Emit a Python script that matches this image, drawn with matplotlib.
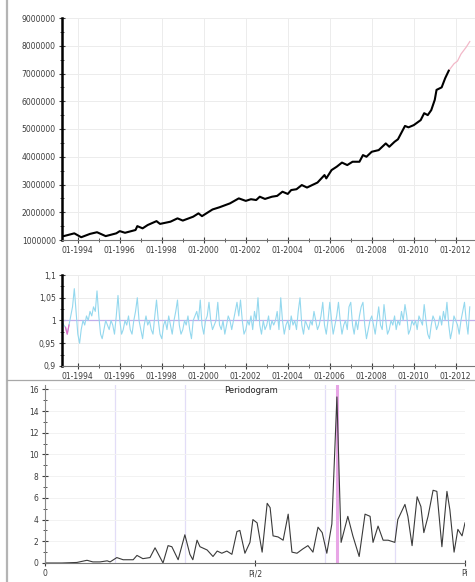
import numpy as np
import pandas as pd
import matplotlib
matplotlib.use("Agg")
import matplotlib.pyplot as plt
import matplotlib.dates as mdates
from matplotlib.ticker import MultipleLocator, FuncFormatter, FixedLocator
from matplotlib.lines import Line2D

# ── Données ───────────────────────────────────────────────────────────────────
# série brute (millions), relevés mensuels
serie_mois = ["1993-04", "1993-05", "1993-11", "1994-03", "1994-08", "1994-12",
              "1995-05", "1995-11", "1996-01", "1996-04", "1996-10", "1996-11",
              "1997-02", "1997-05", "1997-10", "1997-12", "1998-06", "1998-10",
              "1999-01", "1999-07", "1999-10", "1999-12", "2000-06", "2000-10",
              "2001-04", "2001-09", "2002-01", "2002-04", "2002-07", "2002-09",
              "2002-12", "2003-04", "2003-07", "2003-10", "2004-01", "2004-03",
              "2004-06", "2004-09", "2004-12", "2005-03", "2005-06", "2005-10",
              "2005-11", "2006-02", "2006-05", "2006-08", "2006-11", "2007-02",
              "2007-06", "2007-08", "2007-10", "2008-01", "2008-05", "2008-09",
              "2008-11", "2009-02", "2009-04", "2009-08", "2009-10", "2010-01",
              "2010-05", "2010-07", "2010-09", "2010-11", "2011-01", "2011-02",
              "2011-05", "2011-07", "2011-09"]
serie_val = [1.15, 1.14, 1.24, 1.10, 1.22, 1.28,
             1.14, 1.24, 1.32, 1.26, 1.36, 1.50,
             1.42, 1.54, 1.68, 1.58, 1.66, 1.78,
             1.70, 1.84, 1.96, 1.86, 2.10, 2.18,
             2.32, 2.50, 2.41, 2.47, 2.44, 2.56,
             2.48, 2.56, 2.59, 2.74, 2.66, 2.80,
             2.83, 2.98, 2.89, 2.98, 3.07, 3.34,
             3.22, 3.52, 3.64, 3.79, 3.70, 3.82,
             3.82, 4.06, 4.00, 4.18, 4.24, 4.48,
             4.36, 4.54, 4.63, 5.11, 5.06, 5.14,
             5.32, 5.57, 5.50, 5.68, 6.05, 6.41,
             6.50, 6.83, 7.10]

# prévision
prev_mois = ["2011-09", "2011-12", "2012-02", "2012-04", "2012-07", "2012-09"]
prev_val = [7.10, 7.35, 7.45, 7.70, 7.95, 8.15]

# coefficients saisonniers (ratio), mensuels à partir d'avril 1993
ratio_debut = "1993-04"
ratio_val = [
    1.00, 0.99, 0.985, 0.97, 0.99, 1.01, 1.03, 1.07, 1.02,
    0.97, 0.95, 0.98, 1.00, 0.99, 1.01, 1.00, 1.02, 1.01, 1.03, 1.02, 1.065,
    1.01, 0.97, 0.96, 0.98, 1.00, 0.99, 0.98, 1.00, 0.99, 0.97, 1.01, 1.055,
    1.00, 0.97, 0.98, 1.00, 0.99, 1.01, 0.98, 0.97, 1.00, 1.02, 1.05, 1.00,
    0.98, 0.96, 0.99, 1.01, 0.99, 1.00, 0.98, 0.97, 1.01, 1.045, 1.00, 0.97,
    0.96, 0.99, 1.00, 0.98, 1.01, 0.99, 0.97, 1.00, 1.02, 1.045, 0.99, 0.97,
    0.98, 1.00, 0.99, 1.01, 0.98, 0.96, 1.00, 1.01, 1.02, 1.00, 1.045, 0.99,
    0.97, 1.00, 1.01, 1.04, 1.00, 0.98, 0.99, 1.00, 1.04, 0.99, 0.98, 1.00,
    0.97, 0.99, 1.01, 1.00, 0.98, 1.00, 1.02, 1.04, 1.01, 1.045, 1.00, 0.97,
    0.98, 1.00, 0.99, 1.01, 0.98, 1.02, 1.00, 1.05, 0.99, 0.97, 1.00, 0.98,
    0.99, 1.01, 0.98, 1.00, 0.99, 1.00, 1.02, 0.98, 1.05, 1.00, 0.97, 0.99,
    1.00, 0.98, 1.01, 0.99, 1.00, 0.98, 1.02, 1.05, 0.99, 0.97, 1.00, 0.99,
    0.98, 1.00, 0.99, 1.02, 1.00, 0.98, 0.99, 1.01, 1.04, 0.99, 0.97, 1.00,
    1.04, 1.00, 0.97, 0.99, 1.01, 1.04, 1.00, 0.97, 0.99, 1.00, 0.98, 1.03,
    1.04, 0.99, 0.97, 1.00, 0.98, 1.01, 1.03, 1.04, 0.99, 0.96, 0.98, 1.00,
    1.01, 0.99, 0.97, 1.00, 1.03, 0.99, 0.98, 1.035, 1.00, 0.97, 0.98, 1.00,
    0.99, 1.01, 0.98, 1.00, 0.99, 1.02, 1.00, 1.035, 1.01, 0.97, 0.98, 1.00,
    0.99, 1.00, 0.98, 1.01, 1.00, 0.99, 1.035, 1.00, 0.97, 0.96, 0.99, 1.01,
    1.00, 0.98, 0.99, 1.01, 0.99, 1.02, 1.00, 1.04, 0.99, 0.96, 0.98, 1.01,
    1.00, 0.99, 0.97, 1.00, 1.02, 1.04, 1.00, 0.97, 1.03,
]
ratio_ref = 1.0

# périodogramme : fréquence (fraction de pi) et puissance
perio_freq = [0.000, 0.040, 0.076, 0.100, 0.114, 0.131, 0.148, 0.155, 0.171, 0.186,
              0.210, 0.219, 0.233, 0.250, 0.262, 0.281, 0.293, 0.302, 0.317, 0.333,
              0.345, 0.352, 0.362, 0.369, 0.386, 0.400, 0.410, 0.421, 0.433, 0.445,
              0.457, 0.464, 0.476, 0.488, 0.495, 0.505, 0.517, 0.529, 0.536, 0.543,
              0.555, 0.567, 0.579, 0.588, 0.600, 0.614, 0.626, 0.638, 0.650, 0.660,
              0.671, 0.683, 0.695, 0.705, 0.721, 0.733, 0.748, 0.762, 0.774, 0.781,
              0.793, 0.805, 0.817, 0.833, 0.840, 0.857, 0.864, 0.874, 0.886, 0.895,
              0.902, 0.912, 0.924, 0.933, 0.945, 0.957, 0.964, 0.974, 0.983, 0.993,
              1.000]
perio_val = [0.0, 0.0, 0.05, 0.25, 0.1, 0.1, 0.2, 0.1, 0.5, 0.3,
             0.3, 0.7, 0.4, 0.5, 1.4, 0.0, 1.6, 1.5, 0.3, 2.6,
             0.8, 0.3, 2.1, 1.5, 1.2, 0.6, 1.1, 0.9, 1.1, 0.8,
             2.9, 3.0, 0.9, 1.9, 4.0, 3.7, 1.0, 5.5, 5.1, 2.5,
             2.4, 2.1, 4.5, 1.0, 0.9, 1.3, 1.6, 1.0, 3.3, 2.8,
             0.9, 3.6, 15.3, 1.9, 4.3, 2.5, 0.6, 4.5, 4.3, 1.9,
             3.4, 2.1, 2.1, 1.9, 4.0, 5.4, 4.3, 1.6, 6.1, 5.2,
             2.8, 4.3, 6.7, 6.6, 1.5, 6.6, 4.9, 1.0, 3.1, 2.5,
             3.7]

# ── Mise en forme ─────────────────────────────────────────────────────────────
GRIS = "#3c3c3c"
FS = 5.5

x_serie = pd.to_datetime(serie_mois)
y_serie = np.array(serie_val) * 1e6
x_prev = pd.to_datetime(prev_mois)
y_prev = np.array(prev_val) * 1e6
x_ratio = pd.date_range(ratio_debut, periods=len(ratio_val), freq="MS")
freq = np.array(perio_freq) * np.pi
puis = np.array(perio_val)

xmin, xmax = pd.Timestamp("1993-04-01"), pd.Timestamp("2012-12-01")


def style_axe(ax, spine_gauche="black", lw_gauche=1.8):
    for s in ("top", "right"):
        ax.spines[s].set_visible(False)
    ax.spines["left"].set_color(spine_gauche)
    ax.spines["left"].set_linewidth(lw_gauche)
    ax.spines["bottom"].set_color("#777777")
    ax.spines["bottom"].set_linewidth(0.8)
    ax.tick_params(which="major", direction="inout", length=5, width=0.8,
                   color=GRIS, labelsize=FS, labelcolor=GRIS, pad=2)
    ax.tick_params(which="minor", direction="inout", length=3, width=0.6,
                   color=GRIS)
    ax.set_facecolor("white")


def axe_dates(ax):
    ax.xaxis.set_major_locator(mdates.YearLocator(2, month=1))
    ax.xaxis.set_minor_locator(mdates.YearLocator(1, month=1))
    ax.xaxis.set_major_formatter(mdates.DateFormatter("%m-%Y"))
    ax.set_xlim(xmin, xmax)
    ax.grid(True, which="major", color="#ececec", lw=0.7)
    ax.set_axisbelow(True)


fig = plt.figure(figsize=(4.75, 5.82), dpi=100)

# ── Série brute ───────────────────────────────────────────────────────────────
ax1 = fig.add_axes([62 / 475, 342 / 582, 413 / 475, 222 / 582])
style_axe(ax1)
axe_dates(ax1)
ax1.plot(x_prev, y_prev, color="#f2b8c8", lw=0.9)
ax1.plot(x_serie, y_serie, color="black", lw=1.5, solid_joinstyle="round")
ax1.set_ylim(1e6, 9e6)
ax1.yaxis.set_major_locator(MultipleLocator(1e6))
ax1.yaxis.set_minor_locator(MultipleLocator(5e5))
ax1.yaxis.set_major_formatter(FuncFormatter(lambda v, p: f"{v:.0f}"))

# ── Coefficients saisonniers ──────────────────────────────────────────────────
ax2 = fig.add_axes([62 / 475, 216 / 582, 413 / 475, 91 / 582])
style_axe(ax2)
axe_dates(ax2)
ax2.axhline(ratio_ref, color="#c0aeea", lw=0.9)
ax2.plot(x_ratio, ratio_val, color="#94d8ee", lw=0.8)
ax2.plot(x_ratio[2:5], ratio_val[2:5], color="#e070c8", lw=0.9)
ax2.set_ylim(0.9, 1.1)
ax2.yaxis.set_major_locator(MultipleLocator(0.05))
ax2.yaxis.set_minor_locator(MultipleLocator(0.025))
ax2.yaxis.set_major_formatter(
    FuncFormatter(lambda v, p: f"{v:.2f}".rstrip("0").rstrip(".").replace(".", ",")))

# ── Périodogramme ─────────────────────────────────────────────────────────────
ax3 = fig.add_axes([45 / 475, 19 / 582, 420 / 475, 178 / 582])
style_axe(ax3, spine_gauche="#888888", lw_gauche=0.8)
ax3.set_xlim(0, np.pi)
ax3.set_ylim(0, 16.4)
ax3.xaxis.set_major_locator(FixedLocator([0, np.pi / 2, np.pi]))
ax3.xaxis.set_major_formatter(FuncFormatter(
    lambda v, p: {0: "0", 1: "Pi/2", 2: "Pi"}[int(round(v / (np.pi / 2)))]))
ax3.xaxis.set_minor_locator(MultipleLocator(np.pi / 6))
ax3.tick_params(axis="x", which="minor", length=0)
ax3.yaxis.set_major_locator(MultipleLocator(2))
ax3.yaxis.set_minor_locator(MultipleLocator(1))
ax3.grid(True, which="major", axis="y", color="#f2f2f2", lw=0.7)
ax3.grid(True, which="minor", axis="x", color="#e2ddf7", lw=0.9)
ax3.set_axisbelow(True)
ax3.axvline(freq[np.argmax(puis)], color="#e8a6e6", lw=2.2)
ax3.plot(freq, puis, color="#3a3a3a", lw=0.8)
ax3.text(0.49, 0.995, "Periodogram", transform=ax3.transAxes, ha="center",
         va="top", fontsize=6, color="#222222")

# ── Cadre ─────────────────────────────────────────────────────────────────────
fig.add_artist(Line2D([6.5 / 475, 6.5 / 475], [0, 1], color="#b4b4b4", lw=1.6))
fig.add_artist(Line2D([6.5 / 475, 1], [202 / 582, 202 / 582], color="#a8a8a8", lw=0.9))

fig.savefig("out.png", dpi=100)
